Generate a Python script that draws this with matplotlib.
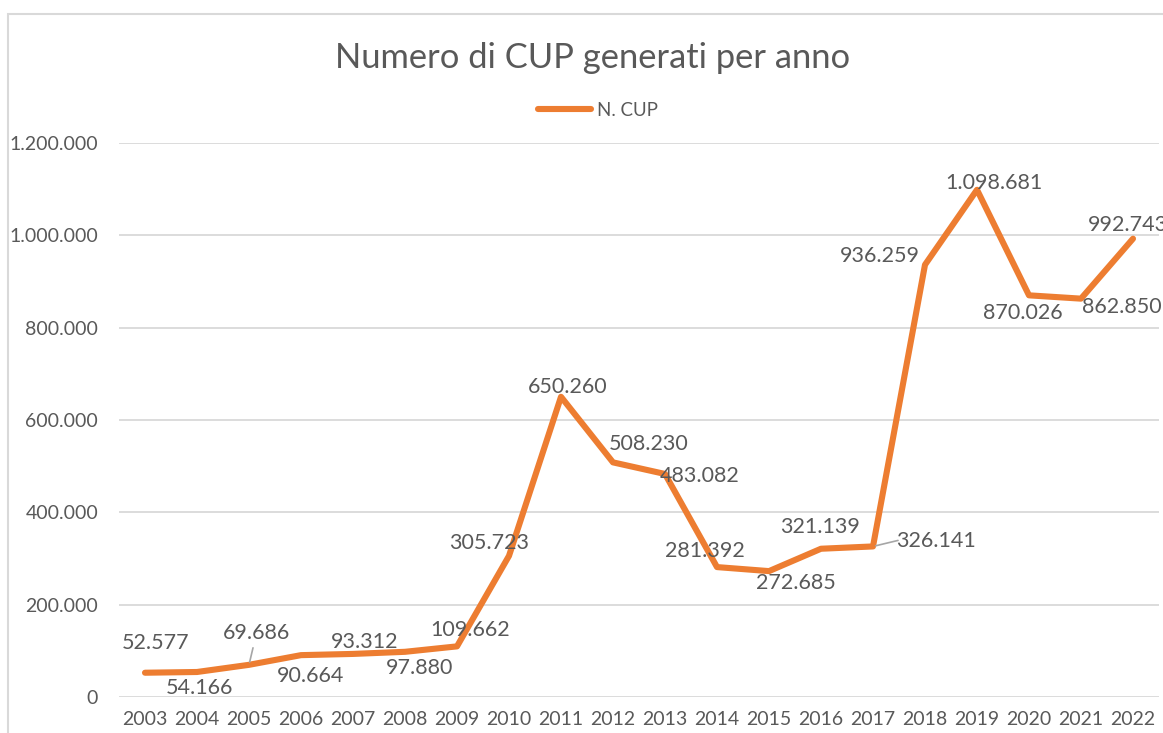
import matplotlib
matplotlib.use("Agg")
import matplotlib.pyplot as plt
from matplotlib.patches import Rectangle

# ---- data ----
years = ["2003", "2004", "2005", "2006", "2007", "2008", "2009", "2010", "2011", "2012",
         "2013", "2014", "2015", "2016", "2017", "2018", "2019", "2020", "2021", "2022"]
n_cup = [52577, 54166, 69686, 90664, 93312, 97880, 109662, 305723, 650260, 508230,
         483082, 281392, 272685, 321139, 326141, 936259, 1098681, 870026, 862850, 992743]
y_ticks = [0, 200000, 400000, 600000, 800000, 1000000, 1200000]
title = "Numero di CUP generati per anno"
series_name = "N. CUP"

# ---- label placement (pixel offsets from each point), layout only ----
label_offsets = [(11, 30), (2, -16), (7, 32), (10, -21), (12, 12), (15, -16), (13, 16),
                 (-20, 13), (7, 10), (36, 18), (35, -2), (-12, 16), (27, -12), (-1, 22),
                 (63, 5), (-45, 9), (17, 7), (-6, -18), (41, -8), (-5, 14)]
leader_idx = {2: (4, 17), 14: (25, 6)}   # index -> leader end offset (pixels)

def it_fmt(v):
    return f"{int(v):,}".replace(",", ".")

FONT = "Lato"
TXT = "#595959"
GRID = "#D9D9D9"
ORANGE = "#ED7D31"

plt.rcParams["font.family"] = [FONT, "DejaVu Sans"]

W, H = 1163, 733
fig = plt.figure(figsize=(W / 100, H / 100), dpi=100)
fig.patch.set_facecolor("white")

left, right = 119 / W, 1159 / W
bottom, top = 1 - 697 / H, 1 - 143 / H
ax = fig.add_axes([left, bottom, right - left, top - bottom])

x = list(range(len(years)))
line, = ax.plot(x, n_cup, color=ORANGE, lw=4.4, solid_capstyle="round",
                solid_joinstyle="round", label=series_name, zorder=3, clip_on=False)

ax.set_xlim(-0.5, len(years) - 0.5)
ax.set_ylim(0, 1200000)
ax.set_yticks(y_ticks)
ax.set_yticklabels([it_fmt(v) for v in y_ticks])
ax.set_xticks(x)
ax.set_xticklabels(years)
ax.tick_params(axis="y", length=0, pad=15, labelsize=14, labelcolor=TXT)
ax.tick_params(axis="x", length=0, pad=10, labelsize=14, labelcolor=TXT)
ax.grid(axis="y", color=GRID, lw=1.3)
ax.set_axisbelow(True)
for s in ax.spines.values():
    s.set_visible(False)

for i, (xi, v) in enumerate(zip(x, n_cup)):
    dx, dy = label_offsets[i]
    ax.annotate(it_fmt(v), (xi, v), xytext=(dx, dy), textcoords="offset pixels",
                ha="center", va="center", fontsize=15.5, color=TXT, zorder=4,
                annotation_clip=False)
    if i in leader_idx:
        lx, ly = leader_idx[i]
        ax.annotate("", (xi, v), xytext=(lx, ly), textcoords="offset pixels",
                    arrowprops=dict(arrowstyle="-", color="#A6A6A6", lw=1.2,
                                    shrinkA=0, shrinkB=2), annotation_clip=False)

fig.text(593 / W, 1 - 58 / H, title, ha="center", va="center", fontsize=24.8,
         color=TXT)

fig.legend(handles=[line], labels=[series_name], loc="center",
           bbox_to_anchor=(598 / W, 1 - 110 / H), frameon=False, fontsize=13.5,
           handlelength=2.8, handletextpad=0.3, labelcolor=TXT)

fig.patches.append(Rectangle((8 / W, -0.1), 2, 1 - 14 / H + 0.1, transform=fig.transFigure,
                             fill=False, edgecolor=GRID, lw=1.5))

fig.savefig("out.png", dpi=100, facecolor="white")
